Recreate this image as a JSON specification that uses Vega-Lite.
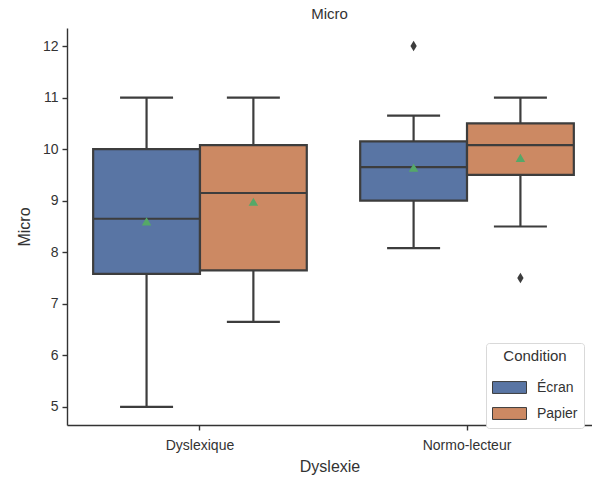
{
  "$schema": "https://vega.github.io/schema/vega-lite/v6.json",
  "autosize": {"type": "none"},
  "padding": {"left": 67, "top": 28, "right": 0, "bottom": 54},
  "width": 525,
  "height": 397,
  "background": "white",
  "title": {"text": "Micro", "fontSize": 15, "font": "Liberation Sans", "fontWeight": "normal", "color": "#333333", "offset": 6},
  "datasets": {
    "stats": [
      {"Dyslexie": "Dyslexique", "Condition": "Écran", "lo": 5, "q1": 7.58, "med": 8.65, "q3": 10.0, "hi": 11, "mean": 8.6},
      {"Dyslexie": "Dyslexique", "Condition": "Papier", "lo": 6.65, "q1": 7.65, "med": 9.15, "q3": 10.08, "hi": 11, "mean": 8.98},
      {"Dyslexie": "Normo-lecteur", "Condition": "Écran", "lo": 8.08, "q1": 9.0, "med": 9.65, "q3": 10.15, "hi": 10.65, "mean": 9.64},
      {"Dyslexie": "Normo-lecteur", "Condition": "Papier", "lo": 8.5, "q1": 9.5, "med": 10.08, "q3": 10.5, "hi": 11, "mean": 9.83}
    ],
    "outliers": [
      {"Dyslexie": "Normo-lecteur", "Condition": "Écran", "v": 12},
      {"Dyslexie": "Normo-lecteur", "Condition": "Papier", "v": 7.5}
    ]
  },
  "data": {"name": "stats"},
  "encoding": {
    "x": {"field": "Dyslexie", "type": "nominal", "title": "Dyslexie",
      "scale": {"paddingInner": 0.2, "paddingOuter": 0.083, "align": 0.59},
      "axis": {"labelAngle": 0}},
    "xOffset": {"field": "Condition", "type": "nominal", "sort": ["Écran", "Papier"], "scale": {"domain": ["Écran", "Papier"], "paddingInner": 0, "paddingOuter": 0}}
  },
  "layer": [
    {
      "mark": {"type": "rule", "color": "#3d3d3d", "strokeWidth": 2.2},
      "encoding": {
        "y": {"field": "lo", "type": "quantitative", "title": "Micro", "scale": {"domain": [4.65, 12.35], "nice": false, "zero": false}},
        "y2": {"field": "hi"}
      }
    },
    {
      "mark": {"type": "bar", "stroke": "#3d3d3d", "strokeWidth": 2.2},
      "encoding": {
        "y": {"field": "q1", "type": "quantitative"},
        "y2": {"field": "q3"},
        "fill": {"field": "Condition", "type": "nominal", "scale": {"domain": ["Écran", "Papier"], "range": ["#5975a4", "#cc8963"]},
          "legend": {"title": "Condition", "orient": "none", "legendX": 419, "legendY": 315}}
      }
    },
    {
      "mark": {"type": "tick", "color": "#3d3d3d", "thickness": 2.2, "size": 106, "orient": "horizontal", "opacity": 1},
      "encoding": {"y": {"field": "med", "type": "quantitative"}}
    },
    {
      "mark": {"type": "tick", "color": "#3d3d3d", "thickness": 2.2, "size": 53, "orient": "horizontal", "opacity": 1},
      "encoding": {"y": {"field": "lo", "type": "quantitative"}}
    },
    {
      "mark": {"type": "tick", "color": "#3d3d3d", "thickness": 2.2, "size": 53, "orient": "horizontal", "opacity": 1},
      "encoding": {"y": {"field": "hi", "type": "quantitative"}}
    },
    {
      "mark": {"type": "point", "shape": "triangle-up", "filled": true, "color": "#55a868", "size": 90, "opacity": 1},
      "encoding": {"y": {"field": "mean", "type": "quantitative"}}
    },
    {
      "data": {"name": "outliers"},
      "mark": {"type": "point", "shape": "M0,-1L0.6,0L0,1L-0.6,0Z", "filled": true, "color": "#3d3d3d", "size": 110, "opacity": 1},
      "encoding": {"y": {"field": "v", "type": "quantitative"}}
    }
  ],
  "config": {
    "font": "Liberation Sans",
    "view": {"stroke": null},
    "axis": {
      "domainColor": "#333333", "domainWidth": 1.4, "tickColor": "#333333", "tickWidth": 1.4, "tickSize": 5,
      "labelFont": "Liberation Sans", "labelFontSize": 14, "labelColor": "#333333", "labelPadding": 4,
      "titleFont": "Liberation Sans", "titleFontSize": 16, "titleFontWeight": "normal", "titleColor": "#333333",
      "grid": false
    },
    "axisX": {"titlePadding": 6, "labelPadding": 8},
    "axisY": {"titlePadding": 10, "tickCount": 8},
    "legend": {
      "titleFont": "Liberation Sans", "titleFontSize": 15, "titleFontWeight": "normal", "titleColor": "#333333", "titleAnchor": "middle", "titlePadding": 6,
      "labelFont": "Liberation Sans", "labelFontSize": 14, "labelColor": "#333333",
      "symbolType": "M-1,-0.35H1V0.35H-1Z", "symbolSize": 1156, "symbolStrokeColor": "#3d3d3d", "symbolStrokeWidth": 1,
      "strokeColor": "#d9d9d9", "fillColor": "white", "cornerRadius": 3, "padding": 6, "rowPadding": 0, "labelOffset": 10
    }
  }
}
